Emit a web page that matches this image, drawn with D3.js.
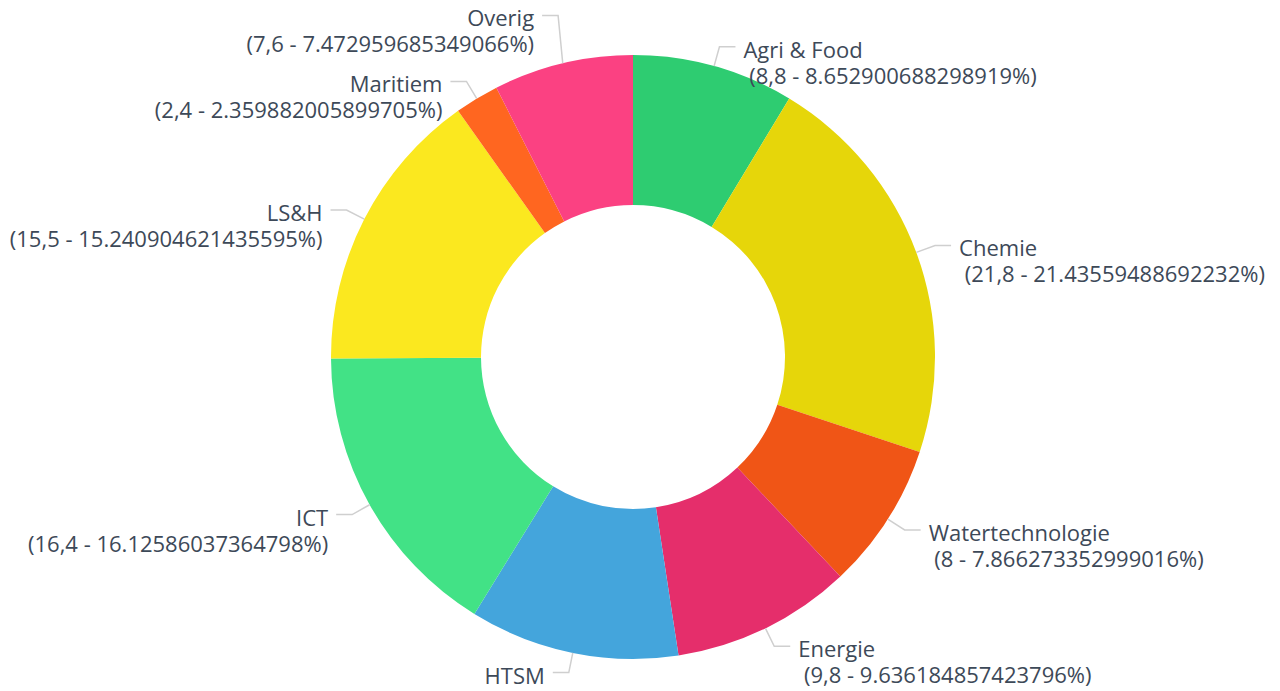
<!DOCTYPE html>
<html>
<head>
<meta charset="utf-8">
<script src="https://cdn.jsdelivr.net/npm/d3@7"></script>
<style>
  html, body { margin: 0; padding: 0; background: #fff; }
  svg { display: block; font-family: "Open Sans", sans-serif; }
</style>
</head>
<body>
<div id="chart"></div>
<script>
// data
var categories = ["Agri & Food", "Chemie", "Watertechnologie", "Energie", "HTSM", "ICT", "LS&H", "Maritiem", "Overig"];
var values = [8.8, 21.8, 8, 9.8, 11.4, 16.4, 15.5, 2.4, 7.6];
var colors = ["#2ecc71", "#e6d60a", "#f05516", "#e52e6b", "#44a5dc", "#42e286", "#fbe81f", "#ff6620", "#fb4182"];

var width = 1280, height = 691;
var cx = 633, cy = 357;
var outerR = 302, innerR = 152;
var len1 = 20, len2 = 16, textGap = 8, lineH = 26, minGap = 66;

var svg = d3.select("#chart").append("svg")
    .attr("width", width)
    .attr("height", height);

var g = svg.append("g").attr("transform", "translate(" + cx + "," + cy + ")");

var data = categories.map(function(c, i) { return {name: c, value: values[i], color: colors[i]}; });
var total = d3.sum(values);

var pie = d3.pie().value(d => d.value).sort(null);
var arcs = pie(data);

var arc = d3.arc().innerRadius(innerR).outerRadius(outerR);

g.selectAll("path.slice")
  .data(arcs)
  .enter().append("path")
    .attr("class", "slice")
    .attr("d", arc)
    .attr("fill", d => d.data.color);

// label anchor points
var labels = arcs.map(function(a) {
  var mid = (a.startAngle + a.endAngle) / 2;
  var s = Math.sin(mid), c = Math.cos(mid);
  return {
    d: a.data,
    right: s >= 0,
    x0: outerR * s, y0: -outerR * c,
    x1: (outerR + len1) * s, y1: -(outerR + len1) * c
  };
});

// simple overlap avoidance per side, pushing labels upwards
["left", "right"].forEach(function(side) {
  var list = labels.filter(l => (side === "right") === l.right)
    .sort((a, b) => a.y1 - b.y1);
  for (var i = list.length - 2; i >= 0; i--) {
    if (list[i + 1].y1 - list[i].y1 < minGap) list[i].y1 = list[i + 1].y1 - minGap;
  }
});

var lab = g.selectAll("g.label")
  .data(labels)
  .enter().append("g")
    .attr("class", "label");

lab.append("polyline")
  .attr("points", function(l) {
    var x2 = l.x1 + (l.right ? len2 : -len2);
    return [[l.x0, l.y0], [l.x1, l.y1], [x2, l.y1]].map(p => p.join(",")).join(" ");
  })
  .attr("fill", "none")
  .attr("stroke", "#cfcfcf")
  .attr("stroke-width", 1.5);

var txt = lab.append("text")
  .attr("x", l => l.x1 + (l.right ? len2 + textGap : -len2 - textGap))
  .attr("y", l => l.y1)
  .attr("text-anchor", l => l.right ? "start" : "end")
  .attr("fill", "#3d4958")
  .style("font-size", "22px");

txt.append("tspan")
  .attr("x", function() { return d3.select(this.parentNode).attr("x"); })
  .attr("dy", "0.5em")
  .text(l => l.d.name);

txt.append("tspan")
  .attr("x", function() { return d3.select(this.parentNode).attr("x"); })
  .attr("dy", lineH)
  .attr("xml:space", "preserve")
  .style("white-space", "pre")
  .text(l => " (" + String(l.d.value).replace(".", ",") + " - " + (l.d.value * 100 / total) + "%)");
</script>
</body>
</html>
